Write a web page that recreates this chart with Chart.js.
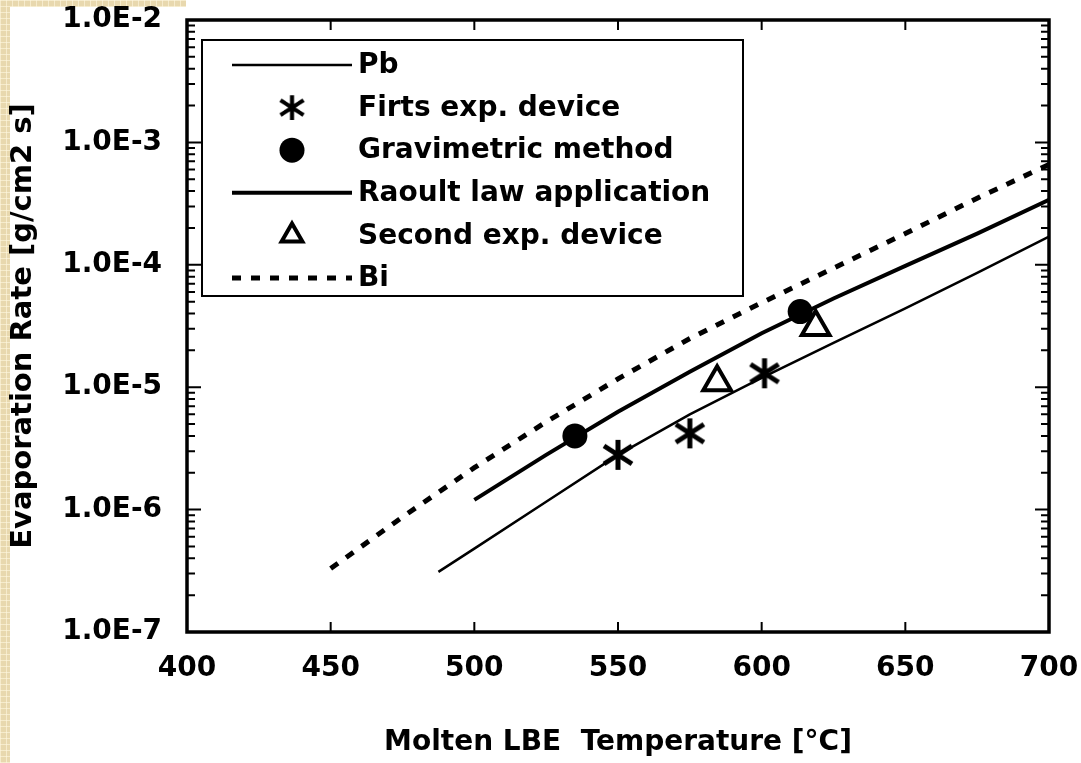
<!DOCTYPE html>
<html>
<head>
<meta charset="utf-8">
<script src="https://cdn.jsdelivr.net/npm/chart.js@4.4.1/dist/chart.umd.min.js"></script>
<style>
  html, body { margin: 0; padding: 0; background: #fff; }
  #wrap { position: relative; width: 1081px; height: 763px; overflow: hidden; }
  .paper {
    position: absolute;
    background-color: #e8d8ae;
    background-image:
      repeating-linear-gradient(0deg, rgba(255,248,225,0.6) 0 1px, transparent 1px 6px),
      repeating-linear-gradient(90deg, rgba(255,248,225,0.6) 0 1px, transparent 1px 6px);
  }
  #strip-left { left: 0; top: 0; width: 10px; height: 763px; }
  #strip-top { left: 0; top: 0; width: 186px; height: 7px; }
  canvas { position: absolute; left: 0; top: 0; }
</style>
</head>
<body>
<div id="wrap">
  <div class="paper" id="strip-left"></div>
  <div class="paper" id="strip-top"></div>
  <canvas id="evapChart" width="1081" height="763"></canvas>
</div>
<script>
// Temperatures in °C, evaporation rates in g/(cm2 s)
const pbTemp = [487.5, 500, 525, 550, 575, 600, 625, 650, 675, 700];
const pbRate = [3.1e-7, 4.8e-7, 1.16e-6, 2.8e-6, 6.0e-6, 1.19e-5, 2.3e-5, 4.4e-5, 8.6e-5, 1.7e-4];

const raoultTemp = [500, 525, 550, 575, 600, 625, 650, 675, 700];
const raoultRate = [1.2e-6, 2.8e-6, 6.3e-6, 1.34e-5, 2.76e-5, 5.3e-5, 9.8e-5, 1.8e-4, 3.4e-4];

const biTemp = [450, 475, 500, 525, 550, 575, 600, 625, 650, 675, 700];
const biRate = [3.3e-7, 8.7e-7, 2.2e-6, 5.2e-6, 1.17e-5, 2.5e-5, 4.9e-5, 9.4e-5, 1.8e-4, 3.5e-4, 6.6e-4];

const firstDevTemp = [550, 575, 601];
const firstDevRate = [2.8e-6, 4.2e-6, 1.3e-5];

const gravTemp = [535, 613.4];
const gravRate = [4.0e-6, 4.15e-5];

const secondDevTemp = [584.5, 618.8];
const secondDevRate = [1.1e-5, 3.1e-5];

const xTicks = [400, 450, 500, 550, 600, 650, 700];
const yDecades = [-7, -6, -5, -4, -3, -2];

const FONT = "'DejaVu Sans', sans-serif";
Chart.defaults.font.family = FONT;
Chart.defaults.color = "#000";

function toPoints(xs, ys) {
  return xs.map((x, i) => ({ x: x, y: ys[i] }));
}

// six-armed asterisk used as point marker
function makeAsterisk() {
  const c = document.createElement("canvas");
  c.width = 34;
  c.height = 34;
  const g = c.getContext("2d");
  g.strokeStyle = "#000";
  g.lineWidth = 5;
  g.beginPath();
  g.moveTo(17, 2); g.lineTo(17, 32);
  g.moveTo(3, 8); g.lineTo(31, 26);
  g.moveTo(3, 26); g.lineTo(31, 8);
  g.stroke();
  return c;
}
const asterisk = makeAsterisk();

// keep the plot area where the layout padding puts it
function noOverflow(scale) {
  scale.paddingTop = 0;
  scale.paddingBottom = 0;
  scale.paddingLeft = 0;
  scale.paddingRight = 0;
}

// inward ticks and a heavy frame around the plot area
const frameTicks = {
  id: "frameTicks",
  afterDraw(chart) {
    const { ctx, chartArea: a, scales } = chart;
    const xs = scales.x, ys = scales.y;
    ctx.save();
    ctx.strokeStyle = "#000";
    ctx.lineWidth = 2;
    ctx.beginPath();
    yDecades.forEach((d) => {
      for (let k = 1; k <= 9; k++) {
        const v = k * Math.pow(10, d);
        if (v > 1e-2 * 1.0001) break;
        const py = ys.getPixelForValue(v);
        const len = k === 1 ? 14 : 8;
        ctx.moveTo(a.left, py); ctx.lineTo(a.left + len, py);
        ctx.moveTo(a.right, py); ctx.lineTo(a.right - len, py);
      }
    });
    xTicks.forEach((t) => {
      const px = xs.getPixelForValue(t);
      ctx.moveTo(px, a.bottom); ctx.lineTo(px, a.bottom - 10);
      ctx.moveTo(px, a.top); ctx.lineTo(px, a.top + 10);
    });
    ctx.stroke();
    ctx.lineWidth = 3.5;
    ctx.strokeRect(a.left, a.top, a.right - a.left, a.bottom - a.top);
    ctx.restore();
  }
};

// boxed legend drawn in the upper left corner of the plot
const boxLegend = {
  id: "boxLegend",
  afterDraw(chart) {
    const { ctx, chartArea: a } = chart;
    const left = a.left + 15, top = a.top + 20;
    const w = 541, h = 256, rowH = 42.6;
    ctx.save();
    ctx.fillStyle = "#fff";
    ctx.fillRect(left, top, w, h);
    ctx.strokeStyle = "#000";
    ctx.lineWidth = 2;
    ctx.strokeRect(left, top, w, h);
    chart.data.datasets.forEach((ds, i) => {
      const y = top + 25 + i * rowH;
      const mx = left + 90;
      ctx.strokeStyle = "#000";
      ctx.fillStyle = "#000";
      if (ds.showLine) {
        ctx.lineWidth = ds.borderWidth;
        ctx.setLineDash(ds.borderDash || []);
        ctx.beginPath();
        ctx.moveTo(left + 30, y);
        ctx.lineTo(left + 150, y);
        ctx.stroke();
        ctx.setLineDash([]);
      } else if (ds.pointStyle === "circle") {
        ctx.beginPath();
        ctx.arc(mx, y, ds.pointRadius, 0, Math.PI * 2);
        ctx.fill();
      } else if (ds.pointStyle === "triangle") {
        const r = 12;
        ctx.lineWidth = ds.pointBorderWidth;
        ctx.beginPath();
        ctx.moveTo(mx, y - r);
        ctx.lineTo(mx + r * Math.sin(Math.PI * 2 / 3), y + r / 2);
        ctx.lineTo(mx - r * Math.sin(Math.PI * 2 / 3), y + r / 2);
        ctx.closePath();
        ctx.stroke();
      } else {
        ctx.drawImage(asterisk, mx - 14, y - 14, 28, 28);
      }
      ctx.font = "bold 28px " + FONT;
      ctx.textBaseline = "middle";
      ctx.fillStyle = "#000";
      ctx.fillText(ds.label, left + 156, y + 1);
    });
    ctx.restore();
  }
};

const ctx = document.getElementById("evapChart").getContext("2d");
new Chart(ctx, {
  type: "scatter",
  data: {
    datasets: [
      {
        label: "Pb",
        data: toPoints(pbTemp, pbRate),
        showLine: true,
        borderColor: "#000",
        borderWidth: 2.5,
        pointRadius: 0
      },
      {
        label: "Firts exp. device",
        data: toPoints(firstDevTemp, firstDevRate),
        showLine: false,
        pointStyle: asterisk,
        pointRadius: 15
      },
      {
        label: "Gravimetric method",
        data: toPoints(gravTemp, gravRate),
        showLine: false,
        pointStyle: "circle",
        pointRadius: 12.5,
        backgroundColor: "#000",
        borderColor: "#000",
        pointBorderWidth: 0
      },
      {
        label: "Raoult law application",
        data: toPoints(raoultTemp, raoultRate),
        showLine: true,
        borderColor: "#000",
        borderWidth: 4,
        pointRadius: 0
      },
      {
        label: "Second exp. device",
        data: toPoints(secondDevTemp, secondDevRate),
        showLine: false,
        pointStyle: "triangle",
        pointRadius: 16,
        backgroundColor: "#fff",
        borderColor: "#000",
        pointBorderWidth: 4
      },
      {
        label: "Bi",
        data: toPoints(biTemp, biRate),
        showLine: true,
        borderColor: "#000",
        borderWidth: 5,
        borderDash: [9, 10],
        pointRadius: 0
      }
    ]
  },
  options: {
    responsive: false,
    animation: false,
    devicePixelRatio: 1,
    layout: { padding: { top: 17, right: 32, bottom: 0, left: 0 } },
    plugins: {
      legend: { display: false },
      tooltip: { enabled: false }
    },
    scales: {
      x: {
        type: "linear",
        min: 400,
        max: 700,
        afterBuildTicks: (scale) => {
          scale.ticks = xTicks.map((v) => ({ value: v }));
        },
        afterFit: (scale) => {
          scale.height = 131;
          noOverflow(scale);
        },
        grid: { display: false, drawTicks: false },
        border: { display: false },
        ticks: {
          padding: 20,
          maxRotation: 0,
          autoSkip: false,
          font: { size: 28, weight: "bold" }
        },
        title: {
          display: true,
          text: "Molten LBE  Temperature [°C]",
          font: { size: 28, weight: "bold" },
          padding: { top: 0, bottom: 3 }
        }
      },
      y: {
        type: "logarithmic",
        min: 1e-7,
        max: 1e-2,
        afterBuildTicks: (scale) => {
          scale.ticks = yDecades.map((d) => ({ value: Math.pow(10, d) }));
        },
        afterFit: (scale) => {
          scale.width = 187;
          noOverflow(scale);
        },
        grid: { display: false, drawTicks: false },
        border: { display: false },
        ticks: {
          padding: 25,
          autoSkip: false,
          font: { size: 28, weight: "bold" },
          callback: (v) => "1.0E" + Math.round(Math.log10(v))
        },
        title: {
          display: true,
          text: "Evaporation Rate [g/cm2 s]",
          font: { size: 29, weight: "bold" },
          padding: { top: 6, bottom: 0 }
        }
      }
    }
  },
  plugins: [frameTicks, boxLegend]
});
</script>
</body>
</html>
